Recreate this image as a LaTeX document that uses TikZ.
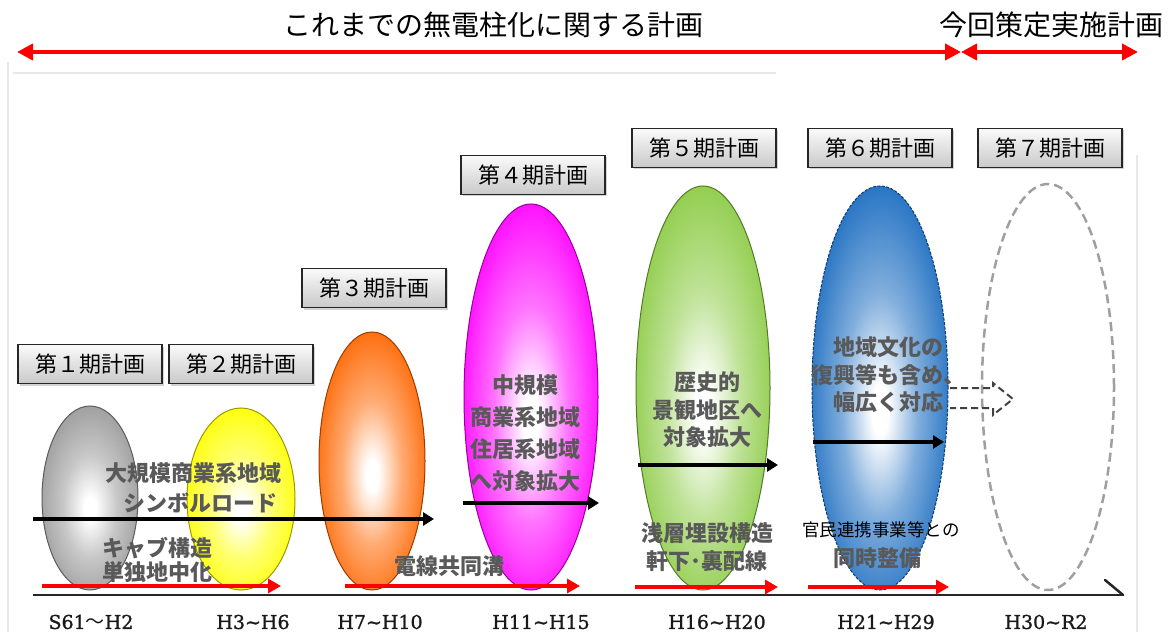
\documentclass[tikz,border=0pt]{standalone}
\usepackage{fontspec}
\setmainfont{DejaVu Serif}
\newfontfamily\cjk{Noto Sans CJK JP}
\newfontfamily\perfont{DejaVu Serif}[FakeBold=1.2]
\usetikzlibrary{shapes.geometric,arrows.meta,shadows}
\colorlet{eggc}{gray}
\pgfdeclareradialshading[eggc]{egg}{\pgfpoint{0bp}{-3bp}}{color(0bp)=(white); color(3bp)=(white); color(14bp)=(eggc!55!white); color(27bp)=(eggc!95!white); color(40bp)=(eggc); color(50bp)=(eggc)}
\definecolor{c1}{HTML}{9A9A9A}
\definecolor{c2}{HTML}{FFFF00}
\definecolor{c3}{HTML}{FF6600}
\definecolor{c4}{HTML}{FF00FF}
\definecolor{c5}{HTML}{8CCB45}
\definecolor{c6}{HTML}{1A6CC0}
\tikzset{
  egg color/.code={\colorlet{eggc}{#1}},
  egg/.style={ellipse, inner sep=0pt, draw=#1!60!black, line width=1pt, egg color=#1, shading=egg},
  labelbox/.style={draw=black!85, line width=1.2pt, minimum width=144, minimum height=39, inner sep=0pt,
    top color=gray!4, bottom color=gray!42, drop shadow={shadow xshift=2pt, shadow yshift=-2pt, opacity=0.35},
    font=\cjk\fontsize{22}{26}\selectfont},
  eggtext/.style={text=black!65, align=center, inner sep=0pt, font=\cjk\bfseries\fontsize{22}{27.5}\selectfont},
  period/.style={text=black!90, inner sep=0pt, font=\perfont\fontsize{19}{22}\selectfont},
  redarrow/.style={red, line width=4pt, -{Triangle[length=13, width=14]}},
  blackarrow/.style={black, line width=4pt, -{Triangle[length=11, width=13]}},
  frameline/.style={gray!18, line width=1.5pt},
}
\begin{document}
\begin{tikzpicture}[x=1pt, y=-1pt]
\useasboundingbox (0,0) rectangle (1173,639);
% faint frame
\draw[frameline] (8,62) -- (8,632);
\draw[frameline] (13,73) -- (776,73);
\draw[frameline] (1137,155) -- (1137,632);

% top headings
\node[font=\cjk\fontsize{28}{32}\selectfont, inner sep=0pt] (title1) at (493,25) {これまでの無電柱化に関する計画};
\node[font=\cjk\fontsize{28}{32}\selectfont, inner sep=0pt] (title2) at (1051,25) {今回策定実施計画};
\coordinate (tl) at (17,52);
\coordinate (tm) at (961,52);
\coordinate (tr) at (1138,52);
\draw[red, line width=4pt, {Triangle[length=16, width=16]}-{Triangle[length=16, width=16]}] (tl) -- (tm);
\draw[red, line width=4pt, {Triangle[length=16, width=16]}-{Triangle[length=16, width=16]}] (tm) -- (tr);

% ellipses
\node[egg=c1, minimum width=96, minimum height=184] (e1) at (90,498) {};
\node[egg=c2, minimum width=108, minimum height=182] (e2) at (241,499) {};
\node[egg=c3, minimum width=106, minimum height=258] (e3) at (372,461) {};
\node[egg=c4, minimum width=134, minimum height=386] (e4) at (531,397) {};
\node[egg=c5, minimum width=134, minimum height=404] (e5) at (703,388) {};
\node[egg=c6, draw=c6!55!black, dash pattern=on 3pt off 1.5pt, minimum width=136, minimum height=404] (e6) at (880,388) {};
\node[ellipse, draw=gray!75, fill=white, line width=2.5pt, dash pattern=on 9pt off 5pt, minimum width=132, minimum height=406] (e7) at (1048,387) {};

% dashed block arrow
\draw[black!75, line width=2pt, dash pattern=on 7pt off 4pt, line join=miter]
  (950,388) -- (993,388) -- (993,383) -- (1013,399) -- (993,415) -- (993,408) -- (950,408);

% labels
\node[labelbox] (l1) at (90,364) {第１期計画};
\node[labelbox] (l2) at (241,364) {第２期計画};
\node[labelbox] (l3) at (374,288) {第３期計画};
\node[labelbox] (l4) at (533,175) {第４期計画};
\node[labelbox] (l5) at (704,148) {第５期計画};
\node[labelbox] (l6) at (880,148) {第６期計画};
\node[labelbox] (l7) at (1050,148) {第７期計画};

% baseline
\coordinate (b0) at (33,595);
\coordinate (b1) at (1123,595);
\coordinate (bb) at (1105,580);
\draw[black!85, line width=2.5pt] (b0) -- (b1);
\draw[black!85, line width=2.5pt, line cap=round] (bb) -- (b1);

% red arrows
\coordinate (r1a) at (42,586);  \coordinate (r1b) at (281,586);
\coordinate (r2a) at (345,586); \coordinate (r2b) at (580,586);
\coordinate (r3a) at (635,587); \coordinate (r3b) at (778,587);
\coordinate (r4a) at (808,587); \coordinate (r4b) at (949,587);
\draw[redarrow] (r1a) -- (r1b);
\draw[redarrow] (r2a) -- (r2b);
\draw[redarrow] (r3a) -- (r3b);
\draw[redarrow] (r4a) -- (r4b);

% black arrows
\coordinate (k1a) at (33,519);  \coordinate (k1b) at (434,519);
\coordinate (k2a) at (463,503); \coordinate (k2b) at (599,503);
\coordinate (k3a) at (638,465); \coordinate (k3b) at (778,465);
\coordinate (k4a) at (813,442); \coordinate (k4b) at (944,442);
\draw[blackarrow] (k1a) -- (k1b);
\draw[blackarrow] (k2a) -- (k2b);
\draw[blackarrow] (k3a) -- (k3b);
\draw[blackarrow] (k4a) -- (k4b);

% texts
\node[eggtext] (t1) at (193,473) {大規模商業系地域};
\node[eggtext] (t2) at (200,503) {シンボルロード};
\node[eggtext, anchor=west] (t3) at (102,548) {キャブ構造};
\node[eggtext, anchor=west] (t4) at (102,572) {単独地中化};
\node[eggtext] (t5) at (449,566) {電線共同溝};
\node[eggtext, font=\cjk\bfseries\fontsize{22}{32}\selectfont] (t6) at (525,433) {中規模\\商業系地域\\住居系地域\\へ対象拡大};
\node[eggtext] (t7) at (707,410) {歴史的\\景観地区へ\\対象拡大};
\node[eggtext] (t8) at (707,547) {浅層埋設構造\\軒下･裏配線};
\node[eggtext] (t9) at (888,375) {地域文化の\\復興等も含め、\\幅広く対応};
\node[inner sep=0pt, font=\cjk\fontsize{17.5}{20}\selectfont] (t10) at (881,530) {官民連携事業等との};
\node[eggtext] (t11) at (877,558) {同時整備};

% periods
\node[period] (p1) at (91,622) {S61{\cjk ～}H2};
\node[period] (p2) at (253,622) {H3\textasciitilde H6};
\node[period] (p3) at (380,622) {H7\textasciitilde H10};
\node[period] (p4) at (541,622) {H11\textasciitilde H15};
\node[period] (p5) at (717,622) {H16\textasciitilde H20};
\node[period] (p6) at (886,622) {H21\textasciitilde H29};
\node[period] (p7) at (1046,622) {H30\textasciitilde R2};
\end{tikzpicture}
\end{document}
